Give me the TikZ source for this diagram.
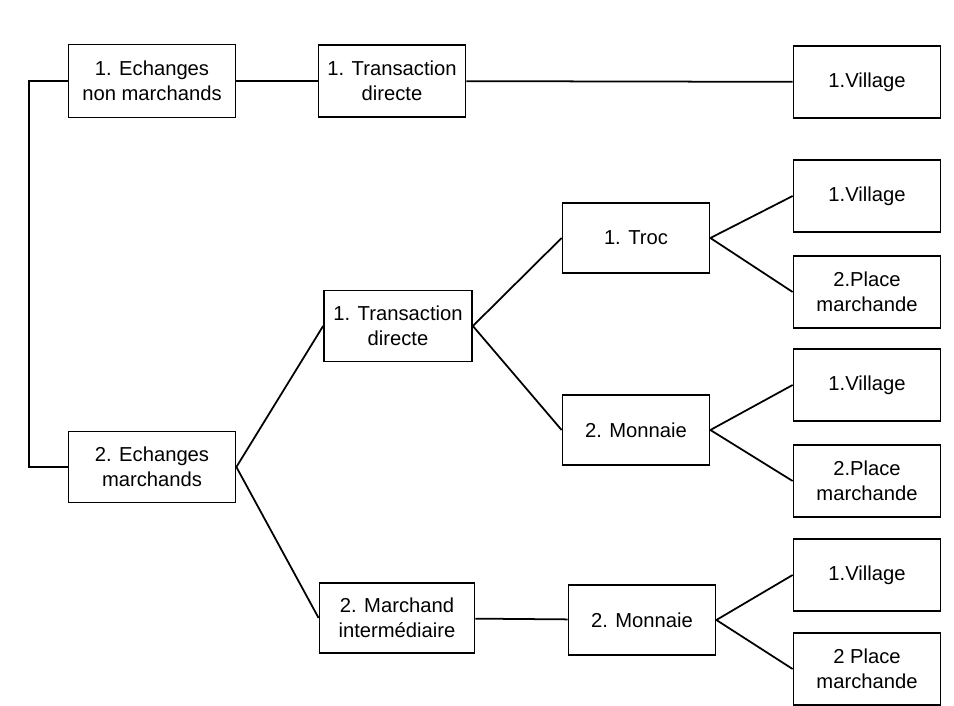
\documentclass[tikz,border=0pt]{standalone}
\usepackage{fontspec}
\setmainfont{Liberation Sans}
\begin{document}
\begin{tikzpicture}[
        box/.style={rectangle, draw, line width=1pt, fill=white, align=center, minimum width=2.94cm, minimum height=1.44cm, inner sep=2pt, font=\fontsize{11.5}{14.2}\selectfont},
        widebox/.style={box, minimum width=3.34cm, minimum height=1.46cm},
        link/.style={line width=1pt}
    ]
    \useasboundingbox (0,0) rectangle (19.08,-14.12);

    % Left column
    \node[widebox] (nonmarch) at (3.04,-1.62) {1. Echanges\\non marchands};
    \node[widebox, minimum height=1.42cm] (march) at (3.04,-9.34) {2. Echanges\\marchands};

    % Middle columns
    \node[box] (trans1) at (7.84,-1.62) {1. Transaction\\directe};
    \node[box, minimum width=2.96cm, minimum height=1.42cm] (trans2) at (7.96,-6.52) {1. Transaction\\directe};
    \node[box, minimum width=3.1cm, minimum height=1.4cm] (marchand) at (7.94,-12.36) {2. Marchand\\intermédiaire};

    \node[box, minimum height=1.4cm] (troc) at (12.72,-4.76) {1. Troc};
    \node[box, minimum height=1.4cm] (monnaie1) at (12.72,-8.60) {2. Monnaie};
    \node[box, minimum height=1.4cm] (monnaie2) at (12.84,-12.40) {2. Monnaie};

    % Right column
    \node[box] (vil1) at (17.34,-1.64) {1.Village};
    \node[box] (vil2) at (17.34,-3.92) {1.Village};
    \node[box] (place2) at (17.34,-5.84) {2.Place\\marchande};
    \node[box] (vil3) at (17.34,-7.70) {1.Village};
    \node[box] (place3) at (17.34,-9.62) {2.Place\\marchande};
    \node[box] (vil4) at (17.34,-11.50) {1.Village};
    \node[box] (place4) at (17.34,-13.38) {2 Place\\marchande};

    % Connectors
    \draw[link] (nonmarch.west) -- ++(-0.78,0) |- (march.west);
    \draw[link] (nonmarch) -- (trans1);
    \draw[link] (trans1) -- (vil1);

    \draw[link] (march.east) -- (trans2.west);
    \draw[link] (march.east) -- (marchand.west);

    \draw[link] (trans2.east) -- (troc.west);
    \draw[link] (trans2.east) -- (monnaie1.west);
    \draw[link] (marchand) -- (monnaie2);

    \draw[link] (troc.east) -- (vil2.west);
    \draw[link] (troc.east) -- (place2.west);
    \draw[link] (monnaie1.east) -- (vil3.west);
    \draw[link] (monnaie1.east) -- (place3.west);
    \draw[link] (monnaie2.east) -- (vil4.west);
    \draw[link] (monnaie2.east) -- (place4.west);

\end{tikzpicture}
\end{document}
